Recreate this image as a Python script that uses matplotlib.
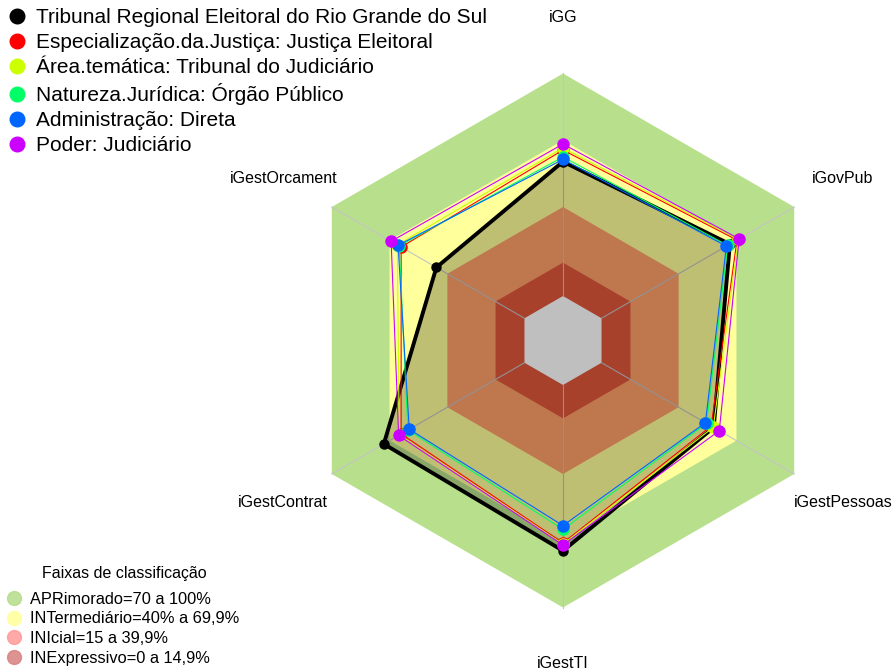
import numpy as np
import matplotlib.pyplot as plt
from matplotlib.lines import Line2D

plt.rcParams['font.family'] = ['Liberation Sans', 'DejaVu Sans']

# dados (percentual em cada indice)
categorias = ["iGG", "iGovPub", "iGestPessoas", "iGestTI", "iGestContrat", "iGestOrcament"]

nomes = ["Tribunal Regional Eleitoral do Rio Grande do Sul",
         "Especialização.da.Justiça: Justiça Eleitoral",
         "Área.temática: Tribunal do Judiciário",
         "Natureza.Jurídica: Órgão Público",
         "Administração: Direta",
         "Poder: Judiciário"]
cores = ["#000000", "#FF0000", "#CCFF00", "#00FF66", "#0066FF", "#CC00FF"]

tre_rs = [60.4, 66.6, 58.2, 74.5, 73.0, 45.7]
justica_eleitoral = [65.6, 70.3, 56.9, 71.0, 64.0, 64.0]
area_tematica = [66.5, 71.0, 58.0, 71.5, 65.0, 66.0]
natureza_juridica = [62.5, 65.5, 54.5, 64.9, 60.5, 65.0]
administracao = [61.4, 64.8, 53.9, 63.2, 59.8, 65.6]
poder = [68.3, 71.4, 61.1, 71.9, 65.3, 69.2]
series = [tre_rs, justica_eleitoral, area_tematica, natureza_juridica, administracao, poder]

faixas_limites = [100, 70, 40, 15]
faixas_cores = ["#B8E08C", "#FFFF9C", "#FF9F69", "#E0573C"]
faixas_legenda_cores = ["#B5DC8A", "#FFFF99", "#FF9A9A", "#D98080"]
faixas_nomes = ["APRimorado=70 a 100%", "INTermediário=40% a 69,9%",
                "INIcial=15 a 39,9%", "INExpressivo=0 a 14,9%"]

SEG = 5


def raio(v):
    # escala tipo fmsb: centro vazio de raio 1/(seg+1)
    return 1 / (SEG + 1) + np.asarray(v) / 100 * SEG / (SEG + 1)


n = len(categorias)
ang = np.deg2rad(90 - 60 * np.arange(n))


def xy(v):
    r = raio(v)
    x, y = r * np.cos(ang), r * np.sin(ang)
    return np.append(x, x[0]), np.append(y, y[0])


fig = plt.figure(figsize=(8.96, 6.72), dpi=100)
ax = fig.add_axes([0, 0, 1, 1])
R = 267.0
cx, cy = 563.0, 340.5
ax.set_xlim(-cx / R, (896 - cx) / R)
ax.set_ylim(-(672 - cy) / R, cy / R)
ax.set_axis_off()

# faixas de classificacao
for lim, cor in zip(faixas_limites, faixas_cores):
    x, y = xy([lim] * n)
    ax.fill(x, y, color=cor, lw=0, zorder=1)
x, y = xy([0] * n)
ax.fill(x, y, color="white", lw=0, zorder=1)

# eixos radiais
r0, r1 = raio(0), raio(100)
for a in ang:
    ax.plot([r0 * np.cos(a), r1 * np.cos(a)], [r0 * np.sin(a), r1 * np.sin(a)],
            color="#C4C4C4", lw=0.8, zorder=2)

# poligono preenchido do TRE-RS
x, y = xy(tre_rs)
ax.fill(x, y, color="black", alpha=0.25, lw=0, zorder=3)

for i, (vals, cor) in enumerate(zip(series, cores)):
    x, y = xy(vals)
    if i == 0:
        ax.plot(x, y, color=cor, lw=2.8, zorder=4)
        ax.plot(x[:-1], y[:-1], "o", color=cor, ms=6.5, zorder=4)
    else:
        ax.plot(x, y, color=cor, lw=0.8, zorder=5 + i)
        ax.plot(x[:-1], y[:-1], "o", color=cor, ms=8, zorder=5 + i)

# rotulos
for a, nome in zip(ang, categorias):
    ax.text(1.21 * np.cos(a), 1.21 * np.sin(a), nome, ha="center", va="center",
            fontsize=11.5)

handles = [Line2D([], [], ls="none", marker="o", ms=10.5, color=c) for c in cores]
leg1 = fig.legend(handles, nomes, loc="upper left", bbox_to_anchor=(0.0, 1.007),
                  frameon=False, fontsize=15, handletextpad=0.7, labelspacing=0.29,
                  handlelength=0.45, borderaxespad=0.2)

handles2 = [Line2D([], [], ls="none", marker="o", ms=10, color=c, alpha=0.85)
            for c in faixas_legenda_cores]
leg2 = fig.legend(handles2, faixas_nomes, loc="lower left", bbox_to_anchor=(0.0, -0.005),
                  frameon=False, fontsize=11.8, handletextpad=0.7, labelspacing=0.28,
                  handlelength=0.5, title="Faixas de classificação", title_fontsize=11.5,
                  borderaxespad=0.2)
leg2._legend_box.sep = 8

fig.savefig("out.png", dpi=100)
